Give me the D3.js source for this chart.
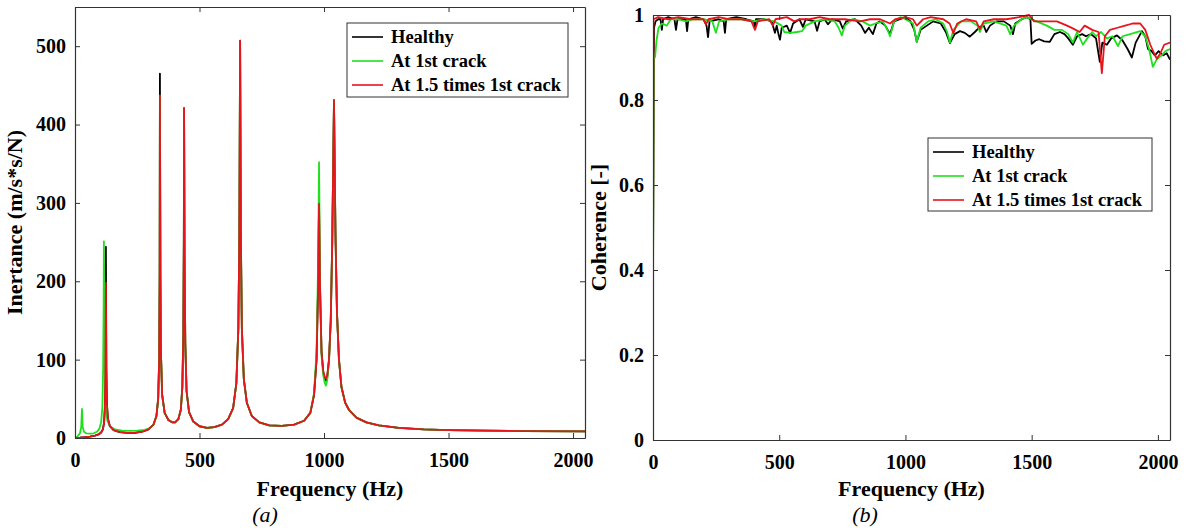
<!DOCTYPE html>
<html>
<head>
<meta charset="utf-8">
<script src="https://cdn.jsdelivr.net/npm/d3@7"></script>
<style>
  body { margin: 0; background: #fff; }
  svg { display: block; font-family: "Liberation Serif", "Times New Roman", serif; }
  .tick text { font-family: "Liberation Serif", "Times New Roman", serif; font-size: 20px; font-weight: bold; fill: #000; }
  .tick line, .domain { stroke: #333; }
</style>
</head>
<body>
<div id="chart"></div>
<script>
/* Inertance FRF and coherence, two panels */

const width = 1189, height = 531;

// series names and colours
const seriesNames = ["Healthy", "At 1st crack", "At 1.5 times 1st crack"];
const seriesColors = ["#000000", "#1ee01e", "#e6141c"];

// tick values
const freqTicks = [0, 500, 1000, 1500, 2000];
const inertTicks = [0, 100, 200, 300, 400, 500];
const cohTicks = [0, 0.2, 0.4, 0.6, 0.8, 1];

// panel (a): inertance (m/s*s/N) against frequency (Hz), [f, value]
const inertHealthy = [[0,0],[20,0.4],[40,1],[60,1.8],[80,3],[95,4.5],[105,7],[112,11],[117,20],[120,40],[122,90],[124,244],[126,90],[128,45],[132,25],[140,15],[155,10],[180,7.5],[210,6.5],[240,6.5],[270,8],[295,11],[315,17],[327,28],[334,50],[338,100],[340,210],[341,465],[343,210],[345,110],[350,55],[360,32],[375,23],[390,20],[402,20],[415,24],[425,36],[431,65],[435,130],[437,250],[438,421],[440,230],[443,120],[448,60],[458,33],[475,21],[500,15],[530,13],[560,14],[590,17],[615,24],[635,38],[648,70],[656,140],[660,260],[663,507],[666,260],[670,140],[678,75],[690,45],[710,28],[740,20],[780,16],[830,15.5],[880,17],[920,22],[945,32],[960,55],[970,100],[976,190],[980,300],[984,190],[990,110],[997,84],[1003,75],[1008,73],[1013,78],[1020,100],[1027,150],[1033,250],[1040,431],[1046,260],[1052,160],[1060,100],[1070,65],[1085,45],[1100,36],[1130,26],[1170,20],[1220,16],[1300,13],[1400,11],[1500,10],[1650,9.3],[1800,8.8],[2048,8.5]];
const inertCrack1 = [[0,0],[10,2],[20,6],[25,14],[28,37],[31,14],[36,8],[45,6],[60,5.5],[75,6],[88,8],[98,12],[105,20],[110,40],[113,90],[115,170],[116,251],[118,170],[120,80],[124,40],[130,22],[140,15],[160,11],[190,9.5],[220,9],[250,9.5],[280,10.5],[300,12.5],[315,17],[327,28],[334,50],[338,100],[340,200],[341,437],[343,200],[345,110],[350,55],[360,32],[375,23],[390,20],[402,20],[415,24],[425,36],[431,65],[435,130],[437,250],[438,421],[440,230],[443,120],[448,60],[458,33],[475,21],[500,15],[530,13],[560,14],[590,17],[615,24],[635,38],[648,70],[656,140],[660,260],[663,506],[666,260],[670,140],[678,75],[690,45],[710,28],[740,20],[780,16],[830,15.5],[880,17],[920,22],[945,32],[960,58],[970,110],[976,220],[980,352],[984,200],[990,105],[997,80],[1003,70],[1008,67],[1013,74],[1020,98],[1027,150],[1033,250],[1040,431],[1046,260],[1052,160],[1060,100],[1070,65],[1085,45],[1100,36],[1130,26],[1170,20],[1220,16],[1300,13],[1400,11],[1500,10],[1650,9.3],[1800,8.8],[2048,8.5]];
const inertCrack15 = [[0,0],[20,0.4],[40,1],[60,1.8],[80,3],[95,4.5],[105,7],[112,11],[117,20],[120,38],[122,80],[124,198],[126,85],[128,45],[132,25],[140,15],[155,10],[180,7.5],[210,6.5],[240,6.5],[270,8],[295,11],[315,17],[327,28],[334,50],[338,100],[340,200],[341,437],[343,200],[345,110],[350,55],[360,32],[375,23],[390,20],[402,20],[415,24],[425,36],[431,65],[435,130],[437,250],[438,421],[440,230],[443,120],[448,60],[458,33],[475,21],[500,15],[530,13],[560,14],[590,17],[615,24],[635,38],[648,70],[656,140],[660,260],[663,507],[666,260],[670,140],[678,75],[690,45],[710,28],[740,20],[780,16],[830,15.5],[880,17],[920,22],[945,32],[960,55],[970,100],[976,190],[980,299],[984,190],[990,110],[997,85],[1003,78],[1008,76],[1013,80],[1020,100],[1027,150],[1033,250],[1040,431],[1046,260],[1052,160],[1060,100],[1070,65],[1085,45],[1100,36],[1130,26],[1170,20],[1220,16],[1300,13],[1400,11],[1500,10],[1650,9.3],[1800,8.8],[2048,8.5]];

// panel (b): coherence [-] against frequency (Hz), [f, value]
const cohHealthy = [[0,0.40],[4,0.97],[10,0.985],[20,0.99],[30,0.99],[35,0.965],[40,0.99],[60,0.995],[85,0.99],[91,0.965],[97,0.99],[130,0.99],[135,0.962],[140,0.99],[170,0.995],[200,0.99],[212,0.975],[218,0.948],[224,0.985],[260,0.99],[280,0.985],[285,0.958],[290,0.99],[330,0.995],[370,0.99],[400,0.985],[404,0.968],[408,0.99],[440,0.99],[470,0.985],[483,0.958],[490,0.975],[497,0.955],[503,0.942],[510,0.97],[530,0.975],[543,0.958],[555,0.98],[580,0.99],[594,0.972],[605,0.99],[640,0.985],[650,0.963],[660,0.985],[680,0.99],[693,0.978],[710,0.99],[740,0.985],[752,0.968],[765,0.985],[800,0.99],[825,0.975],[840,0.958],[855,0.97],[871,0.955],[885,0.98],[899,0.985],[920,0.975],[939,0.955],[955,0.985],[978,0.99],[1000,0.995],[1020,0.985],[1035,0.965],[1045,0.937],[1060,0.965],[1085,0.975],[1110,0.985],[1140,0.98],[1160,0.96],[1176,0.934],[1195,0.955],[1216,0.962],[1235,0.958],[1255,0.949],[1275,0.96],[1295,0.972],[1310,0.975],[1320,0.96],[1335,0.975],[1360,0.985],[1390,0.985],[1415,0.975],[1426,0.955],[1435,0.98],[1460,0.99],[1481,0.995],[1495,0.99],[1500,0.932],[1515,0.94],[1530,0.943],[1550,0.938],[1572,0.937],[1590,0.955],[1612,0.96],[1630,0.955],[1645,0.945],[1663,0.93],[1680,0.95],[1700,0.955],[1715,0.95],[1735,0.955],[1755,0.945],[1770,0.89],[1780,0.935],[1798,0.93],[1815,0.945],[1838,0.952],[1860,0.94],[1880,0.92],[1897,0.90],[1912,0.935],[1937,0.962],[1950,0.95],[1961,0.92],[1975,0.915],[1988,0.905],[2003,0.915],[2020,0.905],[2035,0.91],[2048,0.895]];
const cohCrack1 = [[0,0.34],[3,0.90],[8,0.90],[14,0.94],[22,0.97],[35,0.98],[55,0.975],[70,0.99],[100,0.99],[130,0.985],[160,0.99],[200,0.99],[235,0.985],[249,0.958],[262,0.985],[300,0.99],[350,0.99],[400,0.985],[440,0.99],[480,0.985],[510,0.975],[520,0.96],[545,0.958],[570,0.96],[590,0.962],[605,0.975],[640,0.985],[680,0.99],[720,0.985],[735,0.97],[748,0.952],[760,0.975],[790,0.99],[830,0.985],[860,0.975],[880,0.98],[910,0.985],[925,0.97],[939,0.95],[955,0.985],[980,0.995],[1000,0.99],[1030,0.98],[1045,0.937],[1060,0.97],[1090,0.985],[1120,0.99],[1150,0.98],[1165,0.96],[1176,0.935],[1190,0.965],[1220,0.985],[1260,0.985],[1285,0.975],[1295,0.96],[1310,0.98],[1350,0.985],[1400,0.975],[1415,0.955],[1430,0.975],[1460,0.99],[1481,0.995],[1500,0.99],[1520,0.985],[1560,0.975],[1590,0.965],[1620,0.965],[1645,0.955],[1663,0.935],[1680,0.96],[1703,0.93],[1720,0.945],[1740,0.96],[1755,0.95],[1775,0.96],[1798,0.945],[1820,0.95],[1842,0.927],[1860,0.95],[1890,0.955],[1930,0.962],[1950,0.95],[1965,0.92],[1980,0.878],[1995,0.895],[2015,0.905],[2030,0.915],[2048,0.92]];
const cohCrack15 = [[0,0.30],[2,0.99],[20,0.995],[60,0.99],[100,0.995],[150,0.99],[200,0.99],[210,0.978],[220,0.99],[260,0.995],[300,0.99],[350,0.99],[390,0.985],[404,0.965],[415,0.985],[460,0.99],[475,0.975],[485,0.99],[530,0.995],[560,0.985],[580,0.99],[620,0.99],[660,0.995],[700,0.99],[760,0.99],[820,0.985],[860,0.99],[900,0.99],[939,0.98],[960,0.99],[1000,0.995],[1030,0.99],[1045,0.975],[1070,0.99],[1100,0.995],[1150,0.99],[1175,0.98],[1190,0.957],[1205,0.98],[1240,0.99],[1280,0.985],[1295,0.967],[1310,0.985],[1350,0.99],[1400,0.99],[1450,0.995],[1490,1.0],[1510,0.985],[1550,0.985],[1600,0.985],[1640,0.975],[1665,0.968],[1690,0.96],[1710,0.975],[1740,0.965],[1765,0.96],[1778,0.863],[1790,0.95],[1810,0.965],[1840,0.97],[1870,0.975],[1900,0.98],[1930,0.98],[1950,0.965],[1970,0.93],[1985,0.91],[1996,0.897],[2010,0.91],[2025,0.93],[2048,0.935]];

const svg = d3.select("#chart")
    .append("svg")
    .attr("width", width)
    .attr("height", height);

// one panel: box, inside ticks on all sides, lines, labels, legend
function panel(id, box, yDomain, yTicks, yFmt, series, yLabel, caption, legendBox) {
    const x = d3.scaleLinear().domain([0, 2048]).range([box.left, box.right]);
    const y = d3.scaleLinear().domain(yDomain).range([box.bottom, box.top]);
    const g = svg.append("g");

    g.append("clipPath").attr("id", id)
      .append("rect")
        .attr("x", box.left).attr("y", box.top - 1)
        .attr("width", box.right - box.left).attr("height", box.bottom - box.top + 1);

    const line = d3.line()
        .x(d => x(d[0]))
        .y(d => y(d[1]));

    series.forEach((s, i) => {   // healthy first, red on top
        g.append("path")
            .datum(s)
            .attr("d", line)
            .attr("fill", "none")
            .attr("stroke", seriesColors[i])
            .attr("stroke-width", 1.8)
            .attr("stroke-linejoin", "round")
            .attr("clip-path", `url(#${id})`);
    });

    g.append("g")
        .attr("transform", `translate(0,${box.bottom})`)
        .call(d3.axisBottom(x).tickValues(freqTicks).tickSize(-5).tickSizeOuter(0).tickPadding(15).tickFormat(d3.format("d")));
    g.append("g")
        .attr("transform", `translate(0,${box.top})`)
        .call(d3.axisTop(x).tickValues(freqTicks).tickSize(-5).tickSizeOuter(0).tickFormat(""));
    g.append("g")
        .attr("transform", `translate(${box.left},0)`)
        .call(d3.axisLeft(y).tickValues(yTicks).tickSize(-5).tickSizeOuter(0).tickPadding(9).tickFormat(yFmt));
    g.append("g")
        .attr("transform", `translate(${box.right},0)`)
        .call(d3.axisRight(y).tickValues(yTicks).tickSize(-5).tickSizeOuter(0).tickFormat(""));

    g.selectAll(".domain").attr("stroke", "#333").attr("stroke-width", 1.2);

    g.append("text")   // x label
        .attr("x", (box.left + box.right) / 2)
        .attr("y", 496)
        .attr("text-anchor", "middle")
        .attr("font-size", 22)
        .attr("font-weight", "bold")
        .text("Frequency (Hz)");

    g.append("text")   // y label
        .attr("transform", `translate(${box.left - box.yLab},${(box.top + box.bottom) / 2}) rotate(-90)`)
        .attr("text-anchor", "middle")
        .attr("font-size", 22)
        .attr("font-weight", "bold")
        .text(yLabel);

    g.append("text")   // caption (a)/(b)
        .attr("x", box.cap)
        .attr("y", 522)
        .attr("text-anchor", "middle")
        .attr("font-size", 22)
        .attr("font-style", "italic")
        .text(caption);

    const lg = g.append("g").attr("transform", `translate(${legendBox.x},${legendBox.y})`);
    lg.append("rect")
        .attr("width", legendBox.w).attr("height", legendBox.h)
        .attr("fill", "#fff").attr("stroke", "#333").attr("stroke-width", 1);
    seriesNames.forEach((n, i) => {
        const ry = 14 + i * 24;
        lg.append("line")
            .attr("x1", 5).attr("x2", 36).attr("y1", ry).attr("y2", ry)
            .attr("stroke", seriesColors[i]).attr("stroke-width", 1.6);
        lg.append("text")
            .attr("x", 44).attr("y", ry + 6)
            .attr("font-size", 18.5).attr("font-weight", "bold")
            .text(n);
    });
}

panel("clipA", { left: 75, right: 585, top: 7, bottom: 438, yLab: 53, cap: 265 },
    [0, 550], inertTicks, d3.format("d"),
    [inertHealthy, inertCrack1, inertCrack15], "Inertance (m/s*s/N)", "(a)",
    { x: 347, y: 23, w: 221, h: 74 });

panel("clipB", { left: 653, right: 1170, top: 15, bottom: 440, yLab: 47, cap: 865 },
    [0, 1], cohTicks, d => d === 0 || d === 1 ? String(d) : d3.format(".1f")(d),
    [cohHealthy, cohCrack1, cohCrack15], "Coherence [-]", "(b)",
    { x: 928, y: 138, w: 224, h: 73 });
</script>
</body>
</html>
